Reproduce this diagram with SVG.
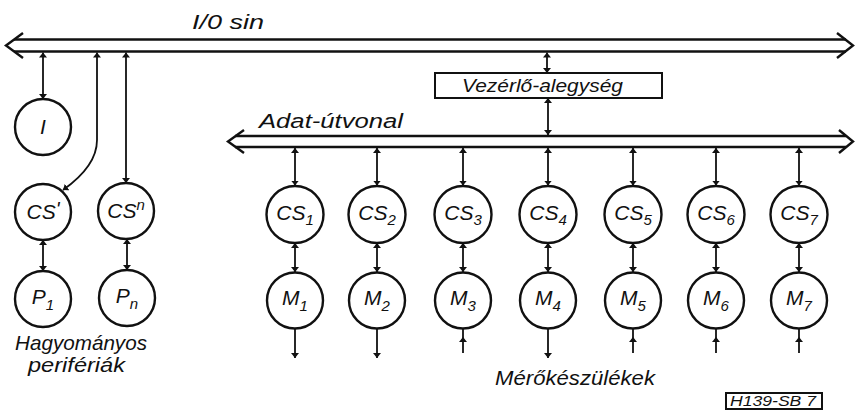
<svg xmlns="http://www.w3.org/2000/svg" width="855" height="413" viewBox="0 0 855 413">
  <style>
    .bg { fill: #ffffff; }
    .bus { stroke: #111; stroke-width: 2.6; fill: none; }
    .head { stroke: #111; stroke-width: 2.4; fill: none; stroke-linejoin: miter; }
    .link { stroke: #111; stroke-width: 1.8; fill: none; }
    .node { fill: #fff; stroke: #111; stroke-width: 2.4; }
    .box { fill: #fff; stroke: #111; stroke-width: 2; }
    .lbl { font-family: "Liberation Sans", Arial, sans-serif; font-style: italic; fill: #111; }
    .nl { font-size: 21px; text-anchor: middle; }
    .sub { font-size: 15px; }
  </style>
  <defs>
    <marker id="tip" viewBox="0 0 10 10" refX="10" refY="5" markerWidth="5" markerHeight="8" markerUnits="userSpaceOnUse" orient="auto-start-reverse" preserveAspectRatio="none">
      <path d="M0,0 L10,5 L0,10 Z" fill="#111"/>
    </marker>
  </defs>

  <rect class="bg" x="0" y="0" width="855" height="413"/>

  <!-- buses and connectors -->
  <g id="connectors">
    <!-- I/O bus -->
    <line class="bus" x1="14" y1="39.5" x2="846" y2="39.5"/>
    <line class="bus" x1="14" y1="51.5" x2="846" y2="51.5"/>
    <polyline class="head" points="23,33 6,45.5 23,58"/>
    <polyline class="head" points="837,33 853,45.5 837,58"/>

    <!-- data path bus -->
    <line class="bus" x1="235" y1="136" x2="846" y2="136"/>
    <line class="bus" x1="235" y1="147" x2="846" y2="147"/>
    <polyline class="head" points="244,130 228,141.5 244,153"/>
    <polyline class="head" points="839,130 853,141.5 839,153"/>

    <!-- conventional peripherals -->
    <line class="link" x1="43" y1="52.5" x2="43" y2="99" marker-start="url(#tip)" marker-end="url(#tip)"/>
    <path class="link" d="M97,52.5 V140 Q97,166 63,190" marker-start="url(#tip)" marker-end="url(#tip)"/>
    <line class="link" x1="126" y1="52.5" x2="126" y2="183" marker-start="url(#tip)" marker-end="url(#tip)"/>
    <line class="link" x1="43" y1="240" x2="43" y2="271" marker-start="url(#tip)" marker-end="url(#tip)"/>
    <line class="link" x1="127" y1="239" x2="127" y2="270" marker-start="url(#tip)" marker-end="url(#tip)"/>

    <!-- control unit -->
    <line class="link" x1="547" y1="52.5" x2="547" y2="73" marker-start="url(#tip)" marker-end="url(#tip)"/>
    <line class="link" x1="548" y1="98" x2="548" y2="135" marker-start="url(#tip)" marker-end="url(#tip)"/>

    <!-- data path to CS1..CS7 -->
    <line class="link" x1="295" y1="148" x2="295" y2="185.5" marker-start="url(#tip)" marker-end="url(#tip)"/>
    <line class="link" x1="377" y1="148" x2="377" y2="185.5" marker-start="url(#tip)" marker-end="url(#tip)"/>
    <line class="link" x1="463" y1="148" x2="463" y2="185.5" marker-start="url(#tip)" marker-end="url(#tip)"/>
    <line class="link" x1="548" y1="148" x2="548" y2="185.5" marker-start="url(#tip)" marker-end="url(#tip)"/>
    <line class="link" x1="633" y1="148" x2="633" y2="185.5" marker-start="url(#tip)" marker-end="url(#tip)"/>
    <line class="link" x1="716" y1="148" x2="716" y2="185.5" marker-start="url(#tip)" marker-end="url(#tip)"/>
    <line class="link" x1="799" y1="148" x2="799" y2="185.5" marker-start="url(#tip)" marker-end="url(#tip)"/>

    <!-- CS to M -->
    <line class="link" x1="295" y1="243" x2="295" y2="272" marker-start="url(#tip)" marker-end="url(#tip)"/>
    <line class="link" x1="377" y1="243" x2="377" y2="272" marker-start="url(#tip)" marker-end="url(#tip)"/>
    <line class="link" x1="463" y1="243" x2="463" y2="272" marker-start="url(#tip)" marker-end="url(#tip)"/>
    <line class="link" x1="548" y1="243" x2="548" y2="272" marker-start="url(#tip)" marker-end="url(#tip)"/>
    <line class="link" x1="633" y1="243" x2="633" y2="272" marker-start="url(#tip)" marker-end="url(#tip)"/>
    <line class="link" x1="716" y1="243" x2="716" y2="272" marker-start="url(#tip)" marker-end="url(#tip)"/>
    <line class="link" x1="799" y1="243" x2="799" y2="272" marker-start="url(#tip)" marker-end="url(#tip)"/>

    <!-- instrument outputs / inputs -->
    <line class="link" x1="295" y1="329" x2="295" y2="358" marker-end="url(#tip)"/>
    <line class="link" x1="377" y1="329" x2="377" y2="358" marker-end="url(#tip)"/>
    <path class="link" d="M463,353 V337 V329" marker-mid="url(#tip)"/>
    <line class="link" x1="548" y1="329" x2="548" y2="358" marker-end="url(#tip)"/>
    <path class="link" d="M633,353 V337 V329" marker-mid="url(#tip)"/>
    <path class="link" d="M716,353 V337 V329" marker-mid="url(#tip)"/>
    <path class="link" d="M799,353 V337 V329" marker-mid="url(#tip)"/>
  </g>

  <!-- bus labels -->
  <text class="lbl" x="192" y="29" font-size="21" textLength="72" lengthAdjust="spacingAndGlyphs">I/0 sin</text>
  <text class="lbl" x="259" y="128" font-size="20" textLength="144" lengthAdjust="spacingAndGlyphs">Adat-útvonal</text>

  <g id="control-unit">
    <rect class="box" x="435" y="73" width="227" height="25"/>
    <text class="lbl" x="462" y="92" font-size="18" textLength="161" lengthAdjust="spacingAndGlyphs">Vezérlő-alegység</text>
  </g>

  <g id="node-I">
    <circle class="node" cx="43" cy="127" r="28"/>
    <text class="lbl nl" x="43" y="134">I</text>
  </g>
  <g id="node-CSprime">
    <circle class="node" cx="43" cy="212" r="28"/>
    <text class="lbl nl" x="43" y="219">CS<tspan font-size="20" dy="-3">'</tspan></text>
  </g>
  <g id="node-CSn">
    <circle class="node" cx="126" cy="211" r="28"/>
    <text class="lbl nl" x="126" y="218">CS<tspan class="sub" dy="-8">n</tspan></text>
  </g>
  <g id="node-P1">
    <circle class="node" cx="43" cy="299" r="28"/>
    <text class="lbl nl" x="43" y="304">P<tspan class="sub" dy="6">1</tspan></text>
  </g>
  <g id="node-Pn">
    <circle class="node" cx="127" cy="298" r="28"/>
    <text class="lbl nl" x="127" y="303">P<tspan class="sub" dy="6">n</tspan></text>
  </g>

  <g id="node-CS1"><circle class="node" cx="295" cy="214.5" r="28.5"/><text class="lbl nl" x="295" y="220">CS<tspan class="sub" dy="5">1</tspan></text></g>
  <g id="node-CS2"><circle class="node" cx="377" cy="214.5" r="28.5"/><text class="lbl nl" x="377" y="220">CS<tspan class="sub" dy="5">2</tspan></text></g>
  <g id="node-CS3"><circle class="node" cx="463" cy="214.5" r="28.5"/><text class="lbl nl" x="463" y="220">CS<tspan class="sub" dy="5">3</tspan></text></g>
  <g id="node-CS4"><circle class="node" cx="548" cy="214.5" r="28.5"/><text class="lbl nl" x="548" y="220">CS<tspan class="sub" dy="5">4</tspan></text></g>
  <g id="node-CS5"><circle class="node" cx="633" cy="214.5" r="28.5"/><text class="lbl nl" x="633" y="220">CS<tspan class="sub" dy="5">5</tspan></text></g>
  <g id="node-CS6"><circle class="node" cx="716" cy="214.5" r="28.5"/><text class="lbl nl" x="716" y="220">CS<tspan class="sub" dy="5">6</tspan></text></g>
  <g id="node-CS7"><circle class="node" cx="799" cy="214.5" r="28.5"/><text class="lbl nl" x="799" y="220">CS<tspan class="sub" dy="5">7</tspan></text></g>

  <g id="node-M1"><circle class="node" cx="295" cy="300.5" r="28"/><text class="lbl nl" x="295" y="305">M<tspan class="sub" dy="6">1</tspan></text></g>
  <g id="node-M2"><circle class="node" cx="377" cy="300.5" r="28"/><text class="lbl nl" x="377" y="305">M<tspan class="sub" dy="6">2</tspan></text></g>
  <g id="node-M3"><circle class="node" cx="463" cy="300.5" r="28"/><text class="lbl nl" x="463" y="305">M<tspan class="sub" dy="6">3</tspan></text></g>
  <g id="node-M4"><circle class="node" cx="548" cy="300.5" r="28"/><text class="lbl nl" x="548" y="305">M<tspan class="sub" dy="6">4</tspan></text></g>
  <g id="node-M5"><circle class="node" cx="633" cy="300.5" r="28"/><text class="lbl nl" x="633" y="305">M<tspan class="sub" dy="6">5</tspan></text></g>
  <g id="node-M6"><circle class="node" cx="716" cy="300.5" r="28"/><text class="lbl nl" x="716" y="305">M<tspan class="sub" dy="6">6</tspan></text></g>
  <g id="node-M7"><circle class="node" cx="799" cy="300.5" r="28"/><text class="lbl nl" x="799" y="305">M<tspan class="sub" dy="6">7</tspan></text></g>

  <!-- group captions -->
  <text class="lbl" x="15" y="350" font-size="21" textLength="132" lengthAdjust="spacingAndGlyphs">Hagyományos</text>
  <text class="lbl" x="28" y="372" font-size="21" textLength="97" lengthAdjust="spacingAndGlyphs">perifériák</text>
  <text class="lbl" x="495" y="385" font-size="21" textLength="160" lengthAdjust="spacingAndGlyphs">Mérőkészülékek</text>

  <!-- figure code -->
  <g id="figure-code">
    <rect class="box" x="726" y="393" width="96" height="16" stroke-width="1.8"/>
    <text class="lbl" x="730" y="406" font-size="15" textLength="86" lengthAdjust="spacingAndGlyphs">H139-SB 7</text>
  </g>
</svg>
